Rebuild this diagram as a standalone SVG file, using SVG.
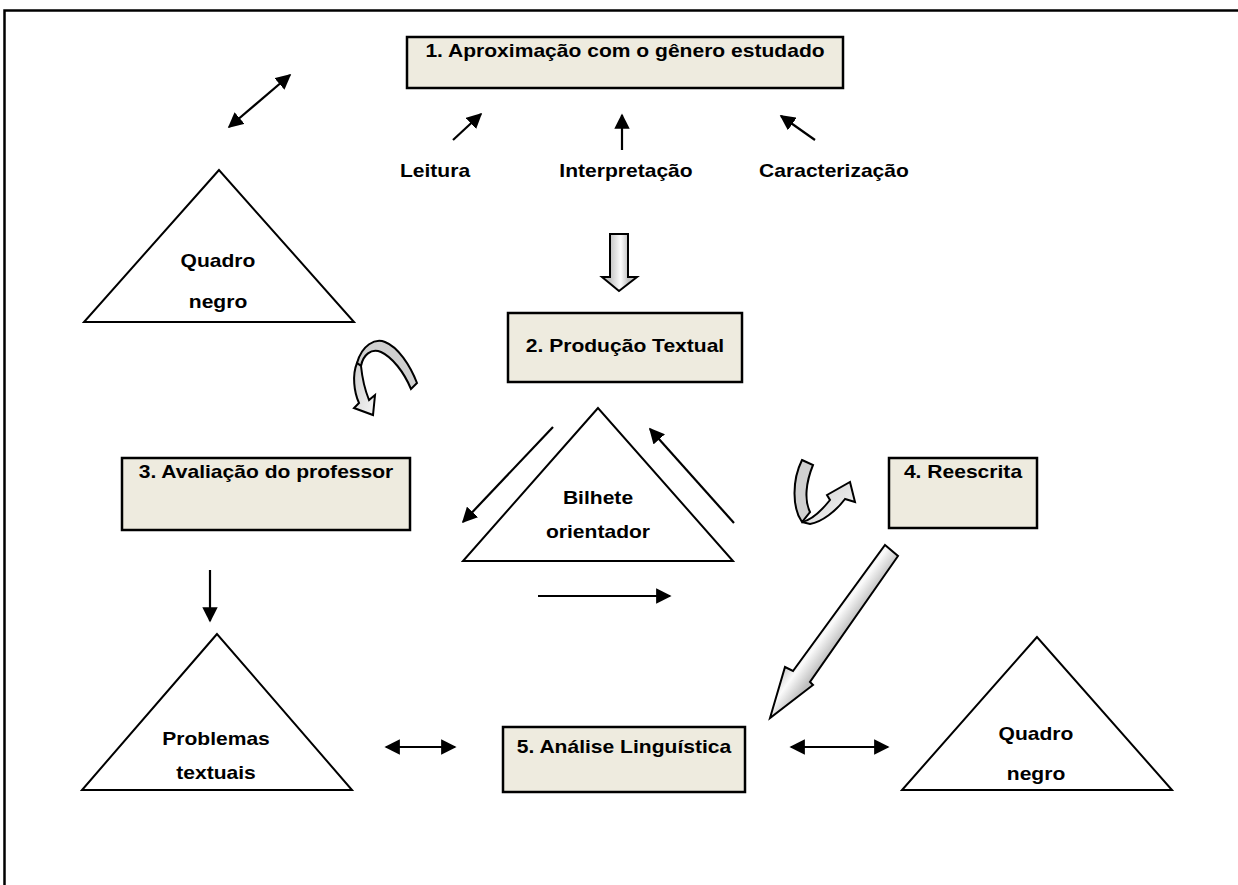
<svg xmlns="http://www.w3.org/2000/svg" width="1238" height="885" viewBox="0 0 1238 885">
<defs>
<style>
.box{fill:#EEEBDF;stroke:#000;stroke-width:2.5}
.tri{fill:#fff;stroke:#000;stroke-width:2}
.t{font-family:"Liberation Sans",Arial,sans-serif;font-weight:bold;font-size:18px;fill:#000;text-anchor:middle}
.ln{stroke:#000;stroke-width:2.2;fill:none}
.blk{stroke:#000;stroke-width:2;stroke-linejoin:miter}
</style>
<marker id="ah" viewBox="0 0 10 10" refX="9" refY="5" markerWidth="7" markerHeight="7" markerUnits="strokeWidth" orient="auto-start-reverse">
<path d="M0,0 L10,5 L0,10 z" fill="#000"/>
</marker>
<linearGradient id="gv" gradientUnits="userSpaceOnUse" x1="610" y1="0" x2="628" y2="0">
<stop offset="0" stop-color="#c4c4c4"/>
<stop offset="0.6" stop-color="#fcfcfc"/>
<stop offset="1" stop-color="#c4c4c4"/>
</linearGradient>
<linearGradient id="gd" gradientUnits="userSpaceOnUse" x1="826" y1="604" x2="852" y2="623">
<stop offset="0" stop-color="#c0c0c0"/>
<stop offset="0.5" stop-color="#fbfbfb"/>
<stop offset="1" stop-color="#c0c0c0"/>
</linearGradient>
<linearGradient id="gc" x1="0" y1="0" x2="1" y2="1">
<stop offset="0" stop-color="#cfcfcf"/>
<stop offset="1" stop-color="#f6f6f6"/>
</linearGradient>
</defs>
<rect width="1238" height="885" fill="#fff"/>
<path d="M4.5,885 L4.5,10.5 L1238,10.5" fill="none" stroke="#000" stroke-width="2.5"/>

<g id="n1">
<rect class="box" x="407" y="37" width="436" height="51"/>
<text class="t" transform="translate(625,57) scale(1.17,1)">1. Aproximação com o gênero estudado</text>
</g>
<g id="leitura"><text class="t" transform="translate(435,177) scale(1.17,1)">Leitura</text></g>
<g id="interpretacao"><text class="t" transform="translate(626,177) scale(1.17,1)">Interpretação</text></g>
<g id="caracterizacao"><text class="t" transform="translate(834,177) scale(1.17,1)">Caracterização</text></g>

<g id="quadro1">
<polygon class="tri" points="219,170 84,322 354,322"/>
<text class="t" transform="translate(218,267) scale(1.17,1)">Quadro</text>
<text class="t" transform="translate(218,308) scale(1.17,1)">negro</text>
</g>

<g id="n2">
<rect class="box" x="508" y="313" width="234" height="69"/>
<text class="t" transform="translate(625,352) scale(1.17,1)">2. Produção Textual</text>
</g>

<g id="n3">
<rect class="box" x="122" y="458" width="288" height="72"/>
<text class="t" transform="translate(266,478) scale(1.17,1)">3. Avaliação do professor</text>
</g>

<g id="bilhete">
<polygon class="tri" points="598,408 463,561 733,561"/>
<text class="t" transform="translate(598,504) scale(1.17,1)">Bilhete</text>
<text class="t" transform="translate(598,538) scale(1.17,1)">orientador</text>
</g>

<g id="n4">
<rect class="box" x="889" y="458" width="148" height="70"/>
<text class="t" transform="translate(963,478) scale(1.17,1)">4. Reescrita</text>
</g>

<g id="problemas">
<polygon class="tri" points="217,634 82,790 352,790"/>
<text class="t" transform="translate(216,745) scale(1.17,1)">Problemas</text>
<text class="t" transform="translate(216,779) scale(1.17,1)">textuais</text>
</g>

<g id="n5">
<rect class="box" x="503" y="727" width="242" height="65"/>
<text class="t" transform="translate(624,753) scale(1.17,1)">5. Análise Linguística</text>
</g>

<g id="quadro2">
<polygon class="tri" points="1037,637 902,790 1172,790"/>
<text class="t" transform="translate(1036,740) scale(1.17,1)">Quadro</text>
<text class="t" transform="translate(1036,780) scale(1.17,1)">negro</text>
</g>

<g id="connectors">
<line class="ln" x1="453" y1="140" x2="481" y2="114" marker-end="url(#ah)"/>
<line class="ln" x1="622" y1="150" x2="622" y2="115" marker-end="url(#ah)"/>
<line class="ln" x1="815" y1="140" x2="781" y2="116" marker-end="url(#ah)"/>
<line class="ln" x1="229" y1="127" x2="290" y2="75" marker-start="url(#ah)" marker-end="url(#ah)"/>
<line class="ln" x1="553" y1="427" x2="463" y2="522" marker-end="url(#ah)"/>
<line class="ln" x1="734" y1="523" x2="650" y2="429" marker-end="url(#ah)"/>
<line class="ln" x1="538" y1="596" x2="670" y2="596" marker-end="url(#ah)"/>
<line class="ln" x1="210" y1="570" x2="210" y2="621" marker-end="url(#ah)"/>
<line class="ln" x1="386" y1="747" x2="455" y2="747" marker-start="url(#ah)" marker-end="url(#ah)"/>
<line class="ln" x1="791" y1="747" x2="888" y2="747" marker-start="url(#ah)" marker-end="url(#ah)"/>

<path class="blk" fill="url(#gv)" d="M610,234 L628,234 L628,277 L637,277 L619,291 L602,277 L610,277 Z"/>

<path class="blk" fill="url(#gd)" d="M885,545 L898,556 L810,682 L813,685 L770,718 L785,667 L793,671 Z"/>

<path class="blk" fill="#d0d0d0" d="M357,363 C362,345 375,338 385,342 C398,347 410,365 417,383 L411,389 C404,372 392,357 381,352 C371,348 363,355 361,366 Z"/>
<path class="blk" fill="url(#gc)" d="M357,363 C352,375 354,392 359,403 L354,408 L373,415 L375,395 L369,400 C365,390 362,376 361,366 Z"/>

<path class="blk" fill="#d0d0d0" d="M802,460 L813,465 C806,482 804,500 810,512 L802,522 C792,508 792,480 802,460 Z"/>
<path class="blk" fill="url(#gc)" d="M802,522 C812,520 822,510 830,500 L827,495 L850,482 L855,502 L845,499 C836,511 822,522 810,524 Z"/>
</g>
</svg>
